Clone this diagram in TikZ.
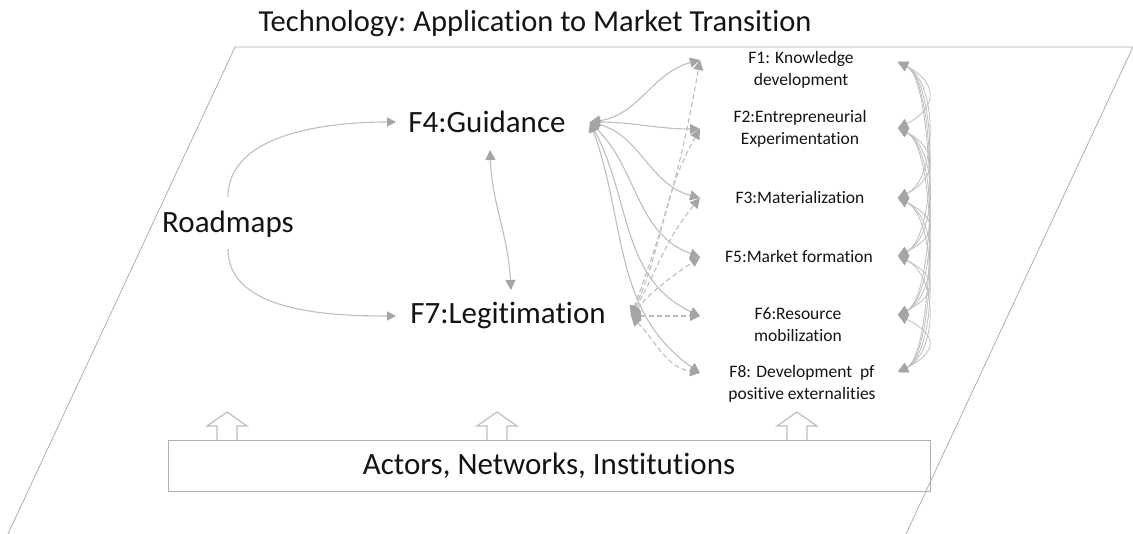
\documentclass[tikz,border=0pt]{standalone}
\usepackage{fontspec}
\setmainfont{Carlito}[Ligatures={NoCommon}]
\usetikzlibrary{arrows.meta}
\definecolor{lg}{RGB}{190,190,190}
\definecolor{tg}{RGB}{165,165,165}
\definecolor{fg}{RGB}{175,175,175}
\definecolor{tx}{RGB}{20,20,20}
\tikzset{
  big/.style={font=\fontsize{31}{36}\selectfont, text=tx, inner sep=0pt},
  small/.style={font=\fontsize{17.5}{22}\selectfont, text=tx, align=center, inner sep=0pt},
  conn/.style={draw=lg, line width=1.1pt, {Triangle[length=10pt,width=10pt,fill=tg,color=tg]}-{Triangle[length=10pt,width=10pt,fill=tg,color=tg]}},
  oneway/.style={draw=lg, line width=1.1pt, -{Triangle[length=9pt,width=9pt,fill=tg,color=tg]}},
  dconn/.style={conn, dash pattern=on 5pt off 3pt},
  frame/.style={draw=fg, line width=0.8pt},
  hollow/.style={draw=lg, line width=1.2pt, fill=white}
}
\begin{document}
\begin{tikzpicture}[x=1pt,y=1pt]
\useasboundingbox (0,0) rectangle (1133,534);
% frame parallelogram
\draw[frame] (8,0) -- (235,487) -- (1133,487);
\draw[frame] (1133,487) -- (906,0);
% title
\node[font=\fontsize{30.5}{34}\selectfont, text=tx, inner sep=0pt] (title) at (535,510) {Technology:\hspace{-2pt} Application to Market Transition};
% main nodes
\node[big] (F4) at (487,412) {F4:Guidance};
\node[big] (F7) at (508,218) {F7:Legitimation};
\node[big] (RM) at (228,310) {Roadmaps};
\node[small] (F1) at (801,464) {F1: Knowledge\\development};
\node[small] (F2) at (800,405) {F2:Entrepreneurial\\Experimentation};
\node[small] (F3) at (800,336) {F3:Materialization};
\node[small] (F5) at (799,277) {F5:Market formation};
\node[small] (F6) at (798,209) {F6:Resource\\mobilization};
\node[small] (F8) at (802,150) {F8: Development\ \ pf\\positive externalities};
% bottom box
\node[draw=fg, line width=0.9pt, minimum width=762pt, minimum height=51pt, inner sep=0pt,
      font=\fontsize{31}{36}\selectfont, text=tx] (ANI) at (549,68.5) {Actors, Networks, Institutions};
% hollow up arrows
\foreach \ax/\nm in {227/u1,497/u2,797/u3}{
  \draw[hollow] (\ax-10,94) -- (\ax-10,108) -- (\ax-20,108) -- (\ax,122) -- (\ax+20,108) -- (\ax+10,108) -- (\ax+10,94);
}
% coordinates
\coordinate (rt) at (228,337);
\coordinate (rb) at (228,285);
\coordinate (f4w) at (396,412);
\coordinate (f7w) at (396,218);
\coordinate (f4s) at (490,384);
\coordinate (f7n) at (511,244);
\coordinate (g) at (590,412);
\coordinate (l) at (631,218);
\coordinate (a1) at (700,474);
\coordinate (a2) at (700,405);
\coordinate (a3) at (700,336);
\coordinate (a5) at (700,277);
\coordinate (a6) at (700,218);
\coordinate (a8) at (700,161);
\coordinate (b1) at (898,472);
\coordinate (b2) at (898,406);
\coordinate (b3) at (898,336);
\coordinate (b5) at (898,278);
\coordinate (b6) at (898,219);
\coordinate (b8) at (898,162);
% roadmaps arrows
\draw[oneway] (rt) to[out=90,in=180,looseness=0.9] (f4w);
\draw[oneway] (rb) to[out=-90,in=180,looseness=0.9] (f7w);
% F4 <-> F7
\draw[conn] (f4s) .. controls (492,330) and (508,300) .. (f7n);
% F4 solid connectors
\draw[conn] (g) to[out=8,in=195] (a1);
\draw[conn] (g) to[out=0,in=180] (a2);
\draw[conn] (g) to[out=-15,in=165] (a3);
\draw[conn] (g) to[out=-45,in=160] (a5);
\draw[conn] (g) to[out=-62,in=155] (a6);
\draw[conn] (g) to[out=-70,in=145] (a8);
% F7 dashed connectors
\draw[dconn] (l) to[out=70,in=-100] (a1);
\draw[dconn] (l) to[out=65,in=-120] (a2);
\draw[dconn] (l) to[out=60,in=-130] (a3);
\draw[dconn] (l) to[out=50,in=-145] (a5);
\draw[dconn] (l) -- (a6);
\draw[dconn] (l) to[out=-45,in=170] (a8);
% right side interconnections
\foreach \p/\q in {b1/b2,b1/b3,b1/b5,b1/b6,b1/b8,b2/b3,b2/b5,b2/b6,b2/b8,b3/b5,b3/b6,b3/b8,b5/b6,b5/b8,b6/b8}{
  \draw[conn, line width=0.8pt] (\p) .. controls +(40,-20) and +(40,20) .. (\q);
}
\end{tikzpicture}
\end{document}
